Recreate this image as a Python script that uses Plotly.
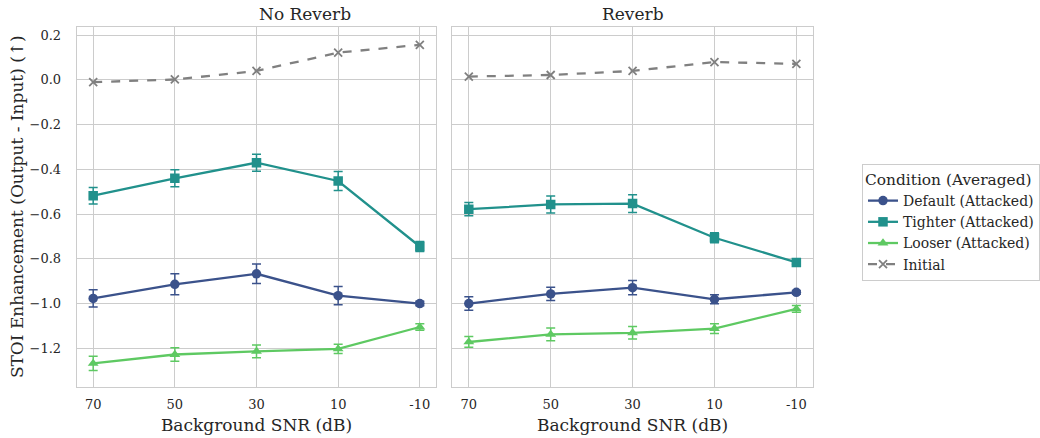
import plotly.graph_objects as go

snr_labels = ["70", "50", "30", "10", "-10"]
panels = ["No Reverb", "Reverb"]

# No Reverb
nr_default = [-0.977, -0.914, -0.867, -0.965, -1.000]
nr_default_err = [0.039, 0.047, 0.044, 0.041, 0.010]
nr_tighter = [-0.518, -0.440, -0.370, -0.452, -0.745]
nr_tighter_err = [0.037, 0.038, 0.038, 0.042, 0.022]
nr_looser = [-1.268, -1.228, -1.214, -1.203, -1.105]
nr_looser_err = [0.032, 0.030, 0.028, 0.021, 0.014]
nr_initial = [-0.010, 0.002, 0.040, 0.122, 0.157]

# Reverb
rv_default = [-1.000, -0.957, -0.929, -0.981, -0.950]
rv_default_err = [0.030, 0.030, 0.032, 0.020, 0.008]
rv_tighter = [-0.578, -0.557, -0.553, -0.706, -0.816]
rv_tighter_err = [0.030, 0.038, 0.040, 0.022, 0.008]
rv_looser = [-1.172, -1.138, -1.131, -1.112, -1.024]
rv_looser_err = [0.024, 0.028, 0.028, 0.022, 0.015]
rv_initial = [0.015, 0.022, 0.040, 0.080, 0.072]

y_ticks = [0.2, 0.0, -0.2, -0.4, -0.6, -0.8, -1.0, -1.2]
y_tick_text = ["0.2", "0.0", "\u22120.2", "\u22120.4", "\u22120.6", "\u22120.8", "\u22121.0", "\u22121.2"]

series_names = ["Default (Attacked)", "Tighter (Attacked)", "Looser (Attacked)", "Initial"]
colors = ["#3b528b", "#21918c", "#5ec962", "#808080"]
symbols = ["circle", "square", "triangle-up", "x-thin"]

FONT = "'DejaVu Serif', 'Liberation Serif', serif"
TXT = "#262626"
GRID = "#cccccc"

fig = go.Figure()

data = {
    "x": [
        (nr_default, nr_default_err), (nr_tighter, nr_tighter_err),
        (nr_looser, nr_looser_err), (nr_initial, None)],
    "x2": [
        (rv_default, rv_default_err), (rv_tighter, rv_tighter_err),
        (rv_looser, rv_looser_err), (rv_initial, None)],
}

for axi, (xa, ya) in enumerate([("x", "y"), ("x2", "y2")]):
    for i, (vals, errs) in enumerate(data[xa]):
        is_init = series_names[i] == "Initial"
        marker = dict(symbol=symbols[i], size=9.5, color=colors[i])
        if is_init:
            marker = dict(symbol="x-thin", size=8, color=colors[i],
                          line=dict(width=1.8, color=colors[i]))
        fig.add_trace(go.Scatter(
            x=snr_labels, y=vals, xaxis=xa, yaxis=ya,
            mode="lines+markers", name=series_names[i],
            legendgroup=series_names[i], showlegend=(axi == 0),
            line=dict(color=colors[i], width=2.3, dash="dash" if is_init else "solid"),
            marker=marker,
            error_y=(dict(type="data", array=errs, visible=True, color=colors[i],
                          thickness=1.5, width=4.5) if errs is not None else None),
        ))

axis_common = dict(
    showgrid=True, gridcolor=GRID, gridwidth=1,
    showline=True, linecolor=GRID, linewidth=1.25, mirror=True,
    zeroline=False, ticks="", color=TXT,
    tickfont=dict(family=FONT, size=13, color=TXT),
)

xtitle_font = dict(family=FONT, size=17, color=TXT)

fig.update_layout(
    width=1040, height=438,
    margin=dict(l=0, r=0, t=0, b=0),
    paper_bgcolor="white", plot_bgcolor="white",
    font=dict(family=FONT, color=TXT),
    xaxis=dict(domain=[77 / 1040, 437 / 1040], type="category",
               range=[-0.2, 4.2], anchor="y", ticklabelstandoff=6,
               title=dict(text="Background SNR (dB)", font=xtitle_font, standoff=7),
               **axis_common),
    xaxis2=dict(domain=[453.3 / 1040, 814.3 / 1040], type="category",
                range=[-0.2, 4.2], anchor="y2", ticklabelstandoff=6,
                title=dict(text="Background SNR (dB)", font=xtitle_font, standoff=7),
                **axis_common),
    yaxis=dict(domain=[1 - 386.7 / 438, 1 - 26.7 / 438], range=[-1.372, 0.238],
               anchor="x", tickvals=y_ticks, ticktext=y_tick_text, ticklabelstandoff=12,
               title=dict(text="STOI Enhancement (Output - Input) (\u2191)",
                          font=xtitle_font, standoff=1),
               **axis_common),
    yaxis2=dict(domain=[1 - 386.7 / 438, 1 - 26.7 / 438], range=[-1.372, 0.238],
                anchor="x2", matches="y", tickvals=y_ticks, showticklabels=False,
                **axis_common),
    legend=dict(
        x=864 / 1040, y=1 - 164 / 438, xanchor="left", yanchor="top",
        bordercolor=GRID, borderwidth=1, bgcolor="white",
        font=dict(family=FONT, size=14, color=TXT),
        title=dict(text="Condition (Averaged)", font=dict(family=FONT, size=15.4, color=TXT)),
        tracegroupgap=0, itemwidth=30,
    ),
    annotations=[
        dict(text=panels[0], x=(77 + 437) / 2 / 1040, y=1 - 13.5 / 438, xref="paper", yref="paper",
             showarrow=False, font=dict(family=FONT, size=17, color=TXT), yanchor="middle"),
        dict(text=panels[1], x=(453.3 + 814.3) / 2 / 1040, y=1 - 13.5 / 438, xref="paper", yref="paper",
             showarrow=False, font=dict(family=FONT, size=17, color=TXT), yanchor="middle"),
    ],
)

fig.write_html("out.html")
